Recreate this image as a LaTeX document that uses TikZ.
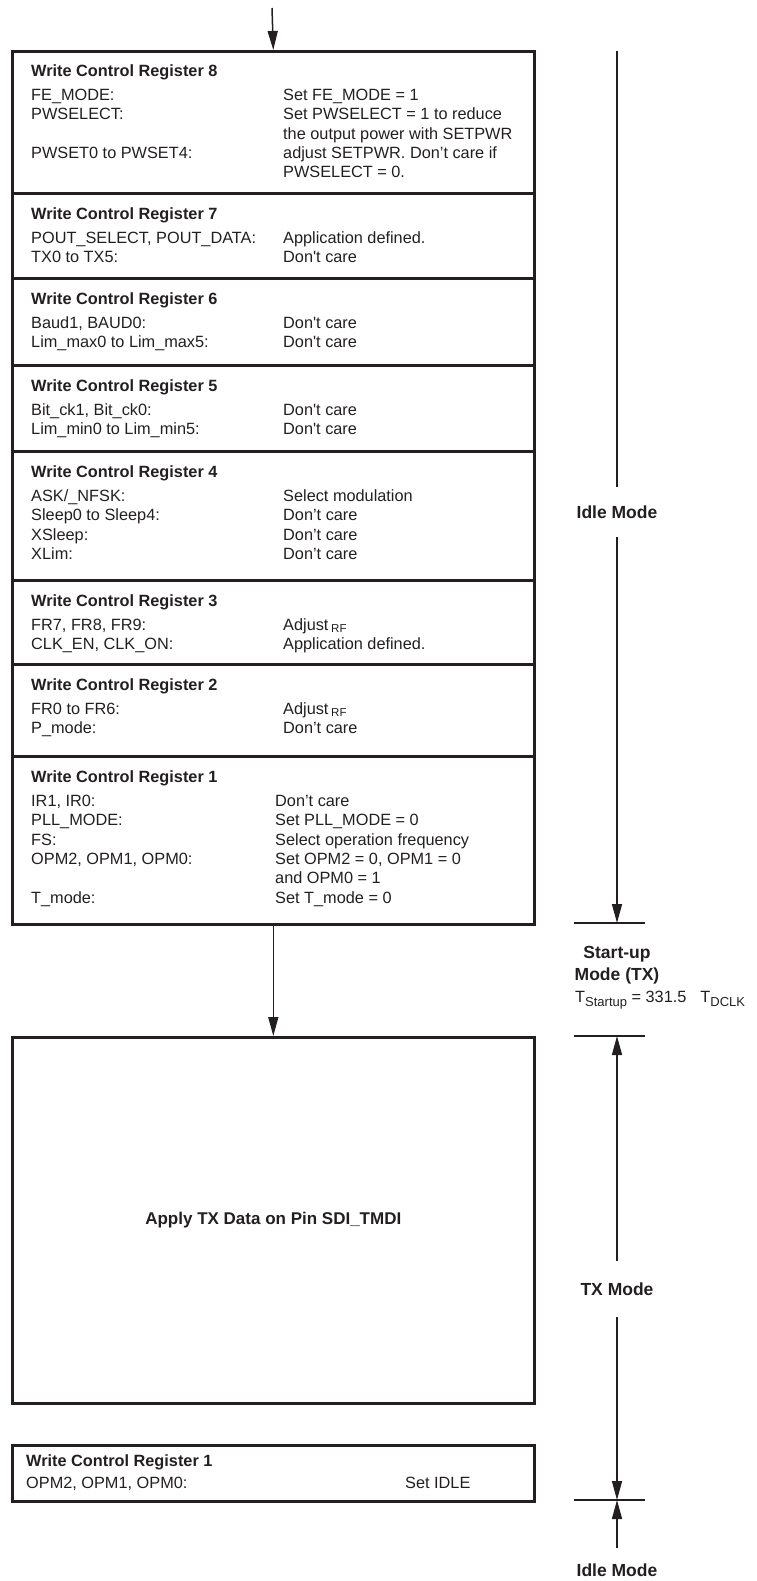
\documentclass[tikz,border=0pt]{standalone}
\usepackage{fontspec}
\setmainfont{Liberation Sans}[Ligatures=TeXOff]
\usetikzlibrary{arrows.meta}
\definecolor{ink}{RGB}{35,31,32}
\newcommand\rfsub{\,\raisebox{-2.5pt}{\fontsize{11.5}{11.5}\selectfont RF}}
\newcommand\subtxt[1]{\raisebox{-4.5pt}{\fontsize{13}{13}\selectfont #1}}
\tikzset{
  boxsec/.style={draw=ink, line width=2.6pt, minimum width=522pt, inner sep=0pt, anchor=north west},
  lbl/.style={anchor=base west, inner sep=0pt, text=ink, font=\fontsize{16.3}{19.3}\selectfont},
  ttl/.style={lbl, font=\fontsize{16.3}{19.3}\selectfont\bfseries},
  arr/.style={draw=ink, line width=1.5pt, -{Triangle[length=19pt,width=10pt]}},
  tickline/.style={draw=ink, line width=1.5pt},
  mode/.style={inner sep=0pt, text=ink, font=\fontsize{17.5}{21}\selectfont\bfseries},
}
\begin{document}
\begin{tikzpicture}[x=1pt,y=-1pt]
\useasboundingbox (0,0) rectangle (757,1581);
% register sections
\node[boxsec, minimum height=142pt] (r8) at (11,50) {};
\node[boxsec, minimum height=85pt]  (r7) at (11,192) {};
\node[boxsec, minimum height=87pt]  (r6) at (11,277) {};
\node[boxsec, minimum height=86pt]  (r5) at (11,364) {};
\node[boxsec, minimum height=129pt] (r4) at (11,450) {};
\node[boxsec, minimum height=84pt]  (r3) at (11,579) {};
\node[boxsec, minimum height=92pt]  (r2) at (11,663) {};
\node[boxsec, minimum height=168pt] (r1) at (11,755) {};
\node[boxsec, minimum height=366pt] (apply) at (11,1036) {};
\node[boxsec, minimum height=56pt]  (idlebox) at (11,1444) {};

% register 8
\node[ttl] (t8) at (31,77) {Write Control Register 8};
\node[lbl] (a8a) at (31,101) {FE\_MODE:};
\node[lbl] (b8a) at (283,101) {Set FE\_MODE = 1};
\node[lbl] (a8b) at (31,120) {PWSELECT:};
\node[lbl] (b8b) at (283,120) {Set PWSELECT = 1 to reduce};
\node[lbl] (b8c) at (283,140) {the output power with SETPWR};
\node[lbl] (a8d) at (31,159) {PWSET0 to PWSET4:};
\node[lbl] (b8d) at (283,159) {adjust SETPWR. Don’t care if};
\node[lbl] (b8e) at (283,178) {PWSELECT = 0.};

% register 7
\node[ttl] (t7) at (31,219) {Write Control Register 7};
\node[lbl] (a7a) at (31,243) {POUT\_SELECT, POUT\_DATA:};
\node[lbl] (b7a) at (283,243) {Application defined.};
\node[lbl] (a7b) at (31,262) {TX0 to TX5:};
\node[lbl] (b7b) at (283,262) {Don't care};

% register 6
\node[ttl] (t6) at (31,304) {Write Control Register 6};
\node[lbl] (a6a) at (31,328) {Baud1, BAUD0:};
\node[lbl] (b6a) at (283,328) {Don't care};
\node[lbl] (a6b) at (31,347) {Lim\_max0 to Lim\_max5:};
\node[lbl] (b6b) at (283,347) {Don't care};

% register 5
\node[ttl] (t5) at (31,391) {Write Control Register 5};
\node[lbl] (a5a) at (31,415) {Bit\_ck1, Bit\_ck0:};
\node[lbl] (b5a) at (283,415) {Don't care};
\node[lbl] (a5b) at (31,434) {Lim\_min0 to Lim\_min5:};
\node[lbl] (b5b) at (283,434) {Don't care};

% register 4
\node[ttl] (t4) at (31,477) {Write Control Register 4};
\node[lbl] (a4a) at (31,501) {ASK/\_NFSK:};
\node[lbl] (b4a) at (283,501) {Select modulation};
\node[lbl] (a4b) at (31,520) {Sleep0 to Sleep4:};
\node[lbl] (b4b) at (283,520) {Don’t care};
\node[lbl] (a4c) at (31,540) {XSleep:};
\node[lbl] (b4c) at (283,540) {Don’t care};
\node[lbl] (a4d) at (31,559) {XLim:};
\node[lbl] (b4d) at (283,559) {Don’t care};

% register 3
\node[ttl] (t3r) at (31,606) {Write Control Register 3};
\node[lbl] (a3a) at (31,630) {FR7, FR8, FR9:};
\node[lbl] (b3a) at (283,630) {Adjust\rfsub};
\node[lbl] (a3b) at (31,649) {CLK\_EN, CLK\_ON:};
\node[lbl] (b3b) at (283,649) {Application defined.};

% register 2
\node[ttl] (t2r) at (31,690) {Write Control Register 2};
\node[lbl] (a2a) at (31,714) {FR0 to FR6:};
\node[lbl] (b2a) at (283,714) {Adjust\rfsub};
\node[lbl] (a2b) at (31,733) {P\_mode:};
\node[lbl] (b2b) at (283,733) {Don’t care};

% register 1
\node[ttl] (t1r) at (31,782) {Write Control Register 1};
\node[lbl] (a1a) at (31,806) {IR1, IR0:};
\node[lbl] (b1a) at (275,806) {Don’t care};
\node[lbl] (a1b) at (31,825) {PLL\_MODE:};
\node[lbl] (b1b) at (275,825) {Set PLL\_MODE = 0};
\node[lbl] (a1c) at (31,845) {FS:};
\node[lbl] (b1c) at (275,845) {Select operation frequency};
\node[lbl] (a1d) at (31,864) {OPM2, OPM1, OPM0:};
\node[lbl] (b1d) at (275,864) {Set OPM2 = 0, OPM1 = 0};
\node[lbl] (b1e) at (275,883) {and OPM0 = 1};
\node[lbl] (a1f) at (31,903) {T\_mode:};
\node[lbl] (b1f) at (275,903) {Set T\_mode = 0};

% apply box text
\node[mode, font=\fontsize{17}{20}\selectfont\bfseries] (applytxt) at (apply.center) {Apply TX Data on Pin SDI\_TMDI};

% final register 1 box
\node[ttl] (tib) at (26,1466) {Write Control Register 1};
\node[lbl] (aib) at (26,1488) {OPM2, OPM1, OPM0:};
\node[lbl] (bib) at (405,1488) {Set IDLE};

% flow arrows
\coordinate (topin) at (272,8);
\draw[arr] (topin) -- (r8.north);
\draw[arr] (r1.south) -- (apply.north);

% timing scale on the right
\coordinate (iltop) at (617,51);
\coordinate (tk1) at (617,923);
\coordinate (tk2) at (617,1036);
\coordinate (tk3) at (617,1500);
\coordinate (ilbot) at (617,1548);

\node[mode, minimum height=50pt] (idle1) at (617,512) {Idle Mode};
\draw[tickline] (iltop) -- (idle1.north);
\draw[arr] (idle1.south) -- (tk1);
\draw[tickline] ([xshift=-43pt]tk1) -- ([xshift=28pt]tk1);

\node[mode, anchor=base] (su1) at (617,958) {Start-up};
\node[mode, anchor=base] (su2) at (617,980) {Mode (TX)};
\node[lbl] (tstart) at (575,1002) {T\subtxt{Startup} = 331.5\hspace{14pt}T\subtxt{DCLK}};

\draw[tickline] ([xshift=-43pt]tk2) -- ([xshift=28pt]tk2);
\node[mode, minimum height=56pt] (txm) at (617,1289) {TX Mode};
\draw[arr] (txm.north) -- (tk2);
\draw[arr] (txm.south) -- (tk3);
\draw[tickline] ([xshift=-43pt]tk3) -- ([xshift=28pt]tk3);
\draw[arr] (ilbot) -- (tk3);
\node[mode, anchor=base] (idle2) at (617,1576) {Idle Mode};
\end{tikzpicture}
\end{document}
